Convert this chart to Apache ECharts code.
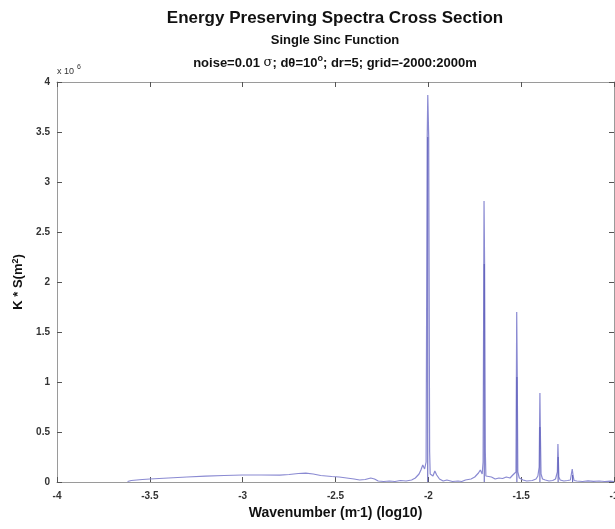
<!DOCTYPE html>
<html>
<head>
<meta charset="utf-8">
<script src="https://cdn.jsdelivr.net/npm/echarts@6/dist/echarts.min.js"></script>
<style>
html,body{margin:0;padding:0;background:#fff;}
#chart{width:615px;height:529px;}
</style>
</head>
<body>
<div id="chart"></div>
<script>
// log10 wavenumber (m^-1)
var waveX = [-3.62,-3.60,-3.57,-3.54,-3.50,-3.45,-3.40,-3.30,-3.20,-3.10,-3.00,-2.90,-2.80,-2.75,-2.70,-2.66,-2.62,-2.58,-2.52,-2.48,-2.44,-2.40,-2.37,-2.34,-2.31,-2.29,-2.27,-2.24,-2.21,-2.18,-2.15,-2.12,-2.09,-2.07,-2.05,-2.04,-2.03,-2.02,-2.012,-2.006,-2.003,-1.998,-1.993,-1.99,-1.975,-1.965,-1.955,-1.94,-1.92,-1.90,-1.87,-1.84,-1.82,-1.80,-1.77,-1.75,-1.73,-1.72,-1.71,-1.705,-1.700,-1.697,-1.693,-1.69,-1.68,-1.66,-1.64,-1.62,-1.60,-1.58,-1.56,-1.545,-1.535,-1.528,-1.524,-1.521,-1.518,-1.51,-1.49,-1.47,-1.44,-1.42,-1.41,-1.403,-1.399,-1.397,-1.393,-1.385,-1.37,-1.35,-1.33,-1.315,-1.305,-1.302,-1.300,-1.297,-1.29,-1.27,-1.25,-1.235,-1.225,-1.220,-1.215,-1.20,-1.17,-1.14,-1.11,-1.08,-1.05,-1.02,-1.00];
// K * S (x 10^6 m^2)
var spectrum = [0.005,0.015,0.02,0.025,0.03,0.035,0.04,0.05,0.058,0.065,0.07,0.07,0.068,0.075,0.085,0.088,0.08,0.065,0.055,0.05,0.04,0.03,0.02,0.025,0.04,0.03,0.01,0.005,0.01,0.005,0.015,0.01,0.02,0.04,0.08,0.12,0.17,0.13,0.2,3.45,3.87,3.45,0.3,0.08,0.06,0.11,0.07,0.03,0.01,0.02,0.005,0.01,0.005,0.02,0.03,0.05,0.09,0.12,0.08,0.2,2.81,2.18,0.3,0.06,0.04,0.05,0.03,0.04,0.035,0.05,0.04,0.07,0.05,0.1,1.70,1.05,0.1,0.04,0.02,0.01,0.015,0.03,0.06,0.15,0.89,0.55,0.08,0.03,0.02,0.01,0.015,0.03,0.1,0.38,0.25,0.05,0.02,0.01,0.015,0.02,0.13,0.06,0.015,0.01,0.005,0.012,0.006,0.01,0.005,0.008,0.005];
// darker cores of the harmonic peaks
var coreX = [-2.003,-1.699,-1.523,-1.399,-1.301,-1.223];
var coreTop = [3.45,2.18,1.05,0.55,0.25,0.07];
var xTicks = [-4,-3.5,-3,-2.5,-2,-1.5,-1];
var yTicks = [0,0.5,1,1.5,2,2.5,3,3.5,4];

var mainData = waveX.map(function(x,i){return [x, spectrum[i]];});
var coreData = [];
coreX.forEach(function(x,i){ coreData.push([x,0]); coreData.push([x,coreTop[i]]); coreData.push([x,'-']); });

var FONT = 'Liberation Sans, Arial, sans-serif';
var chart = echarts.init(document.getElementById('chart'), null, {renderer:'canvas'});
var axisLineStyle = {color:'#9a9a9a', width:1};
var tickStyle = {color:'#555', width:1};
var xMin = xTicks[0], xMax = xTicks[xTicks.length-1];
var yMin = yTicks[0], yMax = yTicks[yTicks.length-1];
chart.setOption({
  animation:false,
  backgroundColor:'#fff',
  grid:{left:57, right:1, top:82, bottom:47, containLabel:false, outerBoundsMode:'none'},
  xAxis:[{
    type:'value', min:xMin, max:xMax, interval:0.5, position:'bottom',
    axisLine:{show:true, onZero:false, lineStyle:axisLineStyle},
    axisTick:{show:true, inside:true, length:5, lineStyle:tickStyle},
    axisLabel:{show:true, margin:9, fontSize:10, fontFamily:FONT, color:'#333', fontWeight:'bold',
      hideOverlap:false, formatter:function(v){return String(v);}},
    splitLine:{show:false},
    name:'Wavenumber (m{sup|-}1) (log10)', nameLocation:'middle', nameGap:23,
    nameTextStyle:{fontSize:14, fontWeight:'bold', fontFamily:FONT, color:'#111',
      rich:{sup:{fontSize:9, fontWeight:'bold', fontFamily:FONT, verticalAlign:'top', padding:[0,0,6,0], color:'#111'}}}
  },{
    type:'value', min:xMin, max:xMax, interval:0.5, position:'top',
    axisLine:{show:true, onZero:false, lineStyle:axisLineStyle},
    axisTick:{show:true, inside:true, length:5, lineStyle:tickStyle},
    axisLabel:{show:false}, splitLine:{show:false}
  }],
  yAxis:[{
    type:'value', min:yMin, max:yMax, interval:0.5, position:'left',
    axisLine:{show:true, onZero:false, lineStyle:axisLineStyle},
    axisTick:{show:true, inside:true, length:5, lineStyle:tickStyle},
    axisLabel:{show:true, margin:7, fontSize:10, fontFamily:FONT, color:'#333', fontWeight:'bold'},
    splitLine:{show:false},
    name:'K * S(m{sup|2})', nameLocation:'middle', nameGap:31, nameRotate:90,
    nameTextStyle:{fontSize:13, fontWeight:'bold', fontFamily:FONT, color:'#111',
      rich:{sup:{fontSize:9, fontWeight:'bold', fontFamily:FONT, color:'#111', padding:[0,0,6,0]}}}
  },{
    type:'value', min:yMin, max:yMax, interval:0.5, position:'right',
    axisLine:{show:true, onZero:false, lineStyle:axisLineStyle},
    axisTick:{show:true, inside:true, length:5, lineStyle:tickStyle},
    axisLabel:{show:false}, splitLine:{show:false}
  }],
  graphic:[
    {type:'text', x:335, y:18, style:{text:'Energy Preserving Spectra Cross Section', font:'bold 17px '+FONT, fill:'#111', align:'center', verticalAlign:'middle'}},
    {type:'text', x:335, y:40, style:{text:'Single Sinc Function', font:'bold 13px '+FONT, fill:'#111', align:'center', verticalAlign:'middle'}},
    {type:'text', x:335, y:63, style:{text:'{n|noise=0.01 }{g|σ}{n|; dθ=10}{s|o}{n|; dr=5; grid=-2000:2000m}', align:'center', verticalAlign:'middle',
      rich:{n:{font:'bold 13px '+FONT, fill:'#111'}, g:{font:'13px DejaVu Serif, serif', fill:'#111'}, s:{font:'bold 9px '+FONT, fill:'#111', padding:[0,0,8,0]}}}},
    {type:'text', x:57, y:72, style:{text:'{a|x 10}{b|6}', align:'left', verticalAlign:'middle',
      rich:{a:{font:'9px '+FONT, fill:'#333'}, b:{font:'7px '+FONT, fill:'#333', padding:[0,0,10,3]}}}}
  ],
  series:[{
    type:'line', xAxisIndex:0, yAxisIndex:0, data:mainData, showSymbol:false, symbol:'none',
    lineStyle:{color:'#8a8ad2', width:1.2}, z:2, clip:true
  },{
    type:'line', xAxisIndex:0, yAxisIndex:0, data:coreData, showSymbol:false, symbol:'none', connectNulls:false,
    lineStyle:{color:'#5a5ab8', width:1}, z:3, clip:true
  }]
});
</script>
</body>
</html>
